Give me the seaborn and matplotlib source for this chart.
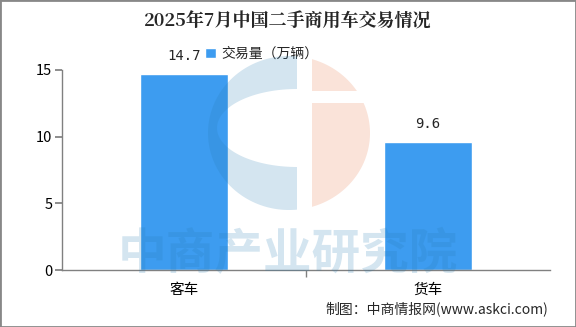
import matplotlib
matplotlib.use("Agg")
import matplotlib.pyplot as plt
import seaborn as sns
import pandas as pd
import numpy as np
from matplotlib.ticker import FixedLocator
from matplotlib.patches import Polygon

categories = ["客车", "货车"]
values = [14.7, 9.6]
series_name = "交易量（万辆）"
title = "2025年7月中国二手商用车交易情况"
yticks = [0, 5, 10, 15]

sns.set_theme(style="white")
plt.rcParams['font.family'] = ['Noto Sans CJK SC', 'DejaVu Sans']

df = pd.DataFrame({"cat": categories, "val": values, "series": series_name})

fig = plt.figure(figsize=(5.76, 3.27), dpi=100)
ax = fig.add_axes([0.1076, 0.1743, 0.8474, 0.6117])

sns.barplot(data=df, x="cat", y="val", hue="series", palette=["#3d9cf0"], width=0.36,
            ax=ax, saturation=1, legend=True)

ax.set_ylim(0, 15)
ax.set_xlim(-0.5, 1.5)
ax.set_yticks(yticks)
ax.set_xlabel("")
ax.set_ylabel("")
for s in ["top", "right"]:
    ax.spines[s].set_visible(False)
for s in ["left", "bottom"]:
    ax.spines[s].set_color("#808080")
    ax.spines[s].set_linewidth(1)
ax.tick_params(axis="y", left=True, length=5, color="#808080", labelsize=10.5, labelcolor="black", pad=2)
ax.tick_params(axis="x", bottom=False, labelsize=10.5, labelcolor="black", pad=3)
ax.xaxis.set_minor_locator(FixedLocator([0.5]))
ax.tick_params(axis="x", which="minor", bottom=True, length=5, color="#808080")
ax.patch.set_alpha(0)

for p, v in zip(ax.patches, values):
    ax.annotate(f"{v}", (p.get_x() + p.get_width() / 2, p.get_height()), xytext=(0, 8),
                textcoords="offset points", ha="center", va="bottom", fontsize=10,
                family="DejaVu Sans Mono")

leg = ax.legend(loc="upper left", bbox_to_anchor=(0.282, 1.145), frameon=False, fontsize=10,
                handlelength=0.75, handleheight=0.75, handletextpad=0.4, borderaxespad=0)

# watermark overlay (semi-transparent, in pixel coordinates)
ov = fig.add_axes([0, 0, 1, 1], zorder=5)
ov.set_xlim(0, 576)
ov.set_ylim(327, 0)
ov.axis("off")
ov.patch.set_alpha(0)
wm_blue = "#287db4"
wm_pink = "#e67341"
a = 0.2
cx, cy, rx, ry = 289, 133, 81, 77
a0 = np.arccos((297 - cx) / rx)
t = np.linspace(a0, 2 * np.pi - a0, 120)
outer = np.c_[cx + rx * np.cos(t), cy - ry * np.sin(t)]
ti = np.linspace(1.5 * np.pi, 0.5 * np.pi, 80)
inner = np.c_[297 + 80 * np.cos(ti), 128 - 39 * np.sin(ti)]
ov.add_patch(Polygon(np.vstack([outer, inner]), closed=True, facecolor=wm_blue, alpha=a, edgecolor="none"))
a1 = np.arccos((312 - cx) / rx)
t1 = np.linspace(np.arcsin((cy - 91) / ry), a1, 60)
top = np.vstack([np.c_[cx + rx * np.cos(t1), cy - ry * np.sin(t1)], [[312, 91]]])
ov.add_patch(Polygon(top, closed=True, facecolor=wm_pink, alpha=a, edgecolor="none"))
t2 = np.linspace(-a1, np.arcsin((cy - 103) / ry), 80)
bot = np.vstack([np.c_[cx + rx * np.cos(t2), cy - ry * np.sin(t2)], [[312, 103]]])
ov.add_patch(Polygon(bot, closed=True, facecolor=wm_pink, alpha=a, edgecolor="none"))
ov.text(288, 255, "中商产业研究院", fontsize=35, color=wm_blue, alpha=a, ha="center", va="center",
        fontweight="bold")

fig.text(0.5, 0.935, title, ha="center", va="center", fontsize=13, fontweight="bold",
         family=["Noto Serif CJK SC", "Noto Sans CJK SC", "DejaVu Sans"])
fig.text(0.952, 0.055, "制图：中商情报网(www.askci.com)", ha="right", va="center", fontsize=10)

fig.patches.append(plt.Rectangle((0, 0), 1, 1, transform=fig.transFigure, fill=False,
                                 edgecolor="#888888", linewidth=2))
fig.savefig("out.png", dpi=100)
